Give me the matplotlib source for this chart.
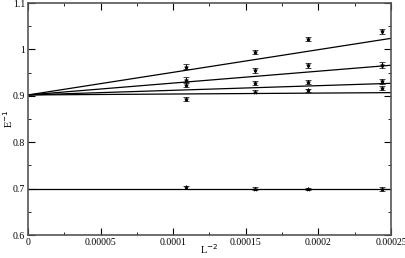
import numpy as np
import matplotlib.pyplot as plt
from matplotlib.ticker import MultipleLocator, FuncFormatter

plt.rcParams['font.family'] = ['Liberation Serif', 'DejaVu Serif']

# data
L = np.array([96, 80, 72, 64])
x = 1.0 / L**2
series = [
    [0.963, 0.994, 1.023, 1.039],
    [0.935, 0.955, 0.966, 0.966],
    [0.924, 0.928, 0.930, 0.931],
    [0.893, 0.909, 0.912, 0.917],
    [0.703, 0.700, 0.700, 0.699],
]
errs = [
    [0.005, 0.004, 0.004, 0.006],
    [0.005, 0.005, 0.005, 0.006],
    [0.004, 0.004, 0.004, 0.006],
    [0.004, 0.003, 0.003, 0.005],
    [0.003, 0.003, 0.002, 0.004],
]
# fit lines: value at x=0 and at x=0.00025
fit_x = [0.0, 0.00025]
fits = [
    [0.902, 1.024],
    [0.902, 0.966],
    [0.902, 0.927],
    [0.902, 0.907],
    [0.700, 0.700],
]

fig = plt.figure(figsize=(4.06, 2.58), dpi=100)
ax = fig.add_axes([0.069, 0.089, 0.894, 0.899])

for yv, f, e in zip(series, fits, errs):
    ax.plot(fit_x, f, color='black', lw=0.9)
    ax.errorbar(x, yv, yerr=e, fmt='*', color='black', ms=3, mew=0.5,
                elinewidth=0.8, capsize=2.5, capthick=0.8)

ax.set_xlim(0, 0.00025)
ax.set_ylim(0.6, 1.1)
ax.xaxis.set_major_locator(MultipleLocator(0.00005))
ax.xaxis.set_minor_locator(MultipleLocator(0.000025))
ax.yaxis.set_major_locator(MultipleLocator(0.1))
ax.yaxis.set_minor_locator(MultipleLocator(0.05))
ax.xaxis.set_major_formatter(FuncFormatter(lambda v, p: '0' if v == 0 else ('%.5f' % v).rstrip('0')))
ax.yaxis.set_major_formatter(FuncFormatter(lambda v, p: ('%.1f' % v).rstrip('0').rstrip('.')))
ax.tick_params(which='both', direction='in', top=True, right=True, labelsize=7, pad=2)
ax.tick_params(which='major', length=5)
ax.tick_params(which='minor', length=2.5)
for s in ax.spines.values():
    s.set_linewidth(1.2)
    s.set_color('#555555')

ax.set_xlabel('L$^{-2}$', fontsize=7.5)
ax.set_ylabel('E$^{-1}$', fontsize=7.5)
ax.xaxis.set_label_coords(0.5, -0.033)
ax.yaxis.set_label_coords(-0.035, 0.5)

plt.savefig('out.png', dpi=100)
